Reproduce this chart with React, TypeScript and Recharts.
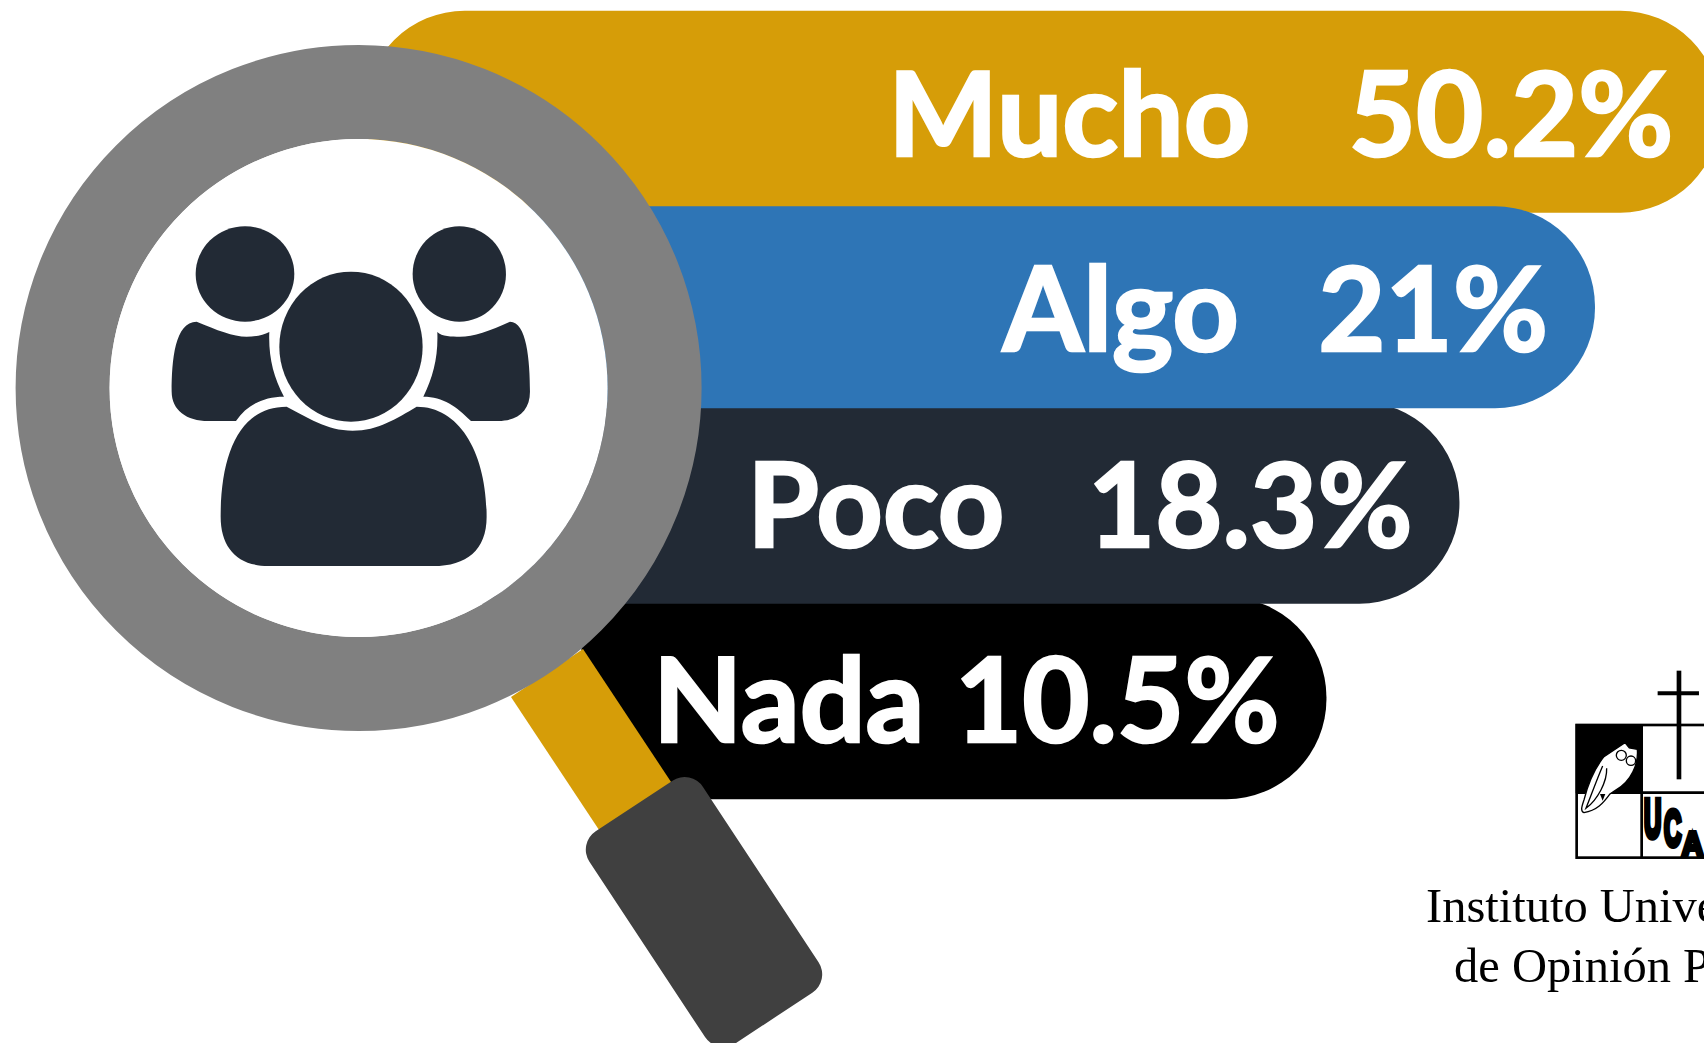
import React from "react";
import { BarChart, Bar, XAxis, YAxis, LabelList, Cell, Rectangle } from "recharts";

// listed bottom-up: the later rows paint over the earlier ones, as in the picture
const categories = ["Nada", "Poco", "Algo", "Mucho"];
const percentages = [10.5, 18.3, 21, 50.2];
// The pills in the source are not drawn to scale with their percentages (they step
// down by rank), so the drawn extent is read off the picture separately from the value.
const drawnStart = [34.1, 21.4, 21.4, 21.4];
const drawnEnd = [77.8, 85.6, 93.55, 100.9];
const colors = ["#000000", "#222A35", "#2E75B6", "#D69D08"];

// how far the word ends before the pill's right end (the gaps vary in the source)
const nameInset = [402, 455, 356, 470];

const rows = categories.map((name, i) => ({
  name,
  offset: drawnStart[i],
  // Mucho sits in its own series so it paints below Algo
  top: name === "Mucho" ? drawnEnd[i] - drawnStart[i] : 0,
  rest: name === "Mucho" ? 0 : drawnEnd[i] - drawnStart[i],
}));

const LABEL_FONT = "Lato, sans-serif";
// the pills overlap each other a little; recharts caps a bar at its band
const PILL_GROW = 1.148;

function Pill(props: any) {
  const { y, width, height } = props;
  if (!(width > 0)) return null;
  const grown = height * PILL_GROW;
  return <Rectangle {...props} y={y - (grown - height) / 2} height={grown} />;
}

function PillLabel(props: any) {
  const { value, viewBox } = props;
  const x = viewBox?.x ?? props.x;
  const y = viewBox?.y ?? props.y;
  const width = viewBox?.width ?? props.width;
  const height = viewBox?.height ?? props.height;
  if (!(width > 0)) return null;
  const index = categories.indexOf(value);
  const end = x + width;
  const baseline = y + height / 2 + 44;
  const common = {
    y: baseline,
    fill: "#FFFFFF",
    stroke: "#FFFFFF",
    strokeWidth: 2.5,
    fontFamily: LABEL_FONT,
    fontWeight: 700,
    fontSize: 116,
    textAnchor: "end" as const,
  };
  return (
    <g>
      <text {...common} x={end - nameInset[index]}>
        {categories[index]}
      </text>
      <text {...common} x={end - 47}>
        {percentages[index]}%
      </text>
    </g>
  );
}

function Magnifier() {
  return (
    <svg width={1704} height={1043} style={{ position: "absolute", left: 0, top: 0 }}>
      <polygon points="583,649 511,697 611,848 683,800" fill="#D69D08" />
      <rect x={-68} y={-127} width={136} height={254} rx={22} fill="#404040" transform="translate(704 912) rotate(-33.4)" />
      <circle cx={358.6} cy={388} r={296} fill="none" stroke="#808080" strokeWidth={94} />
      <circle cx={358.6} cy={388} r={249} fill="#FFFFFF" />
      <g transform="translate(140 200) scale(0.3333)" fill="#222A35">
        <ellipse cx={315} cy={222} rx={148} ry={143} />
        <ellipse cx={958} cy={222} rx={140} ry={143} />
        <ellipse cx={633} cy={440} rx={215} ry={225} />
        <path d="M170,365 C230,390 280,410 320,410 C350,410 370,405 388,396 C385,470 400,530 432,590 C370,590 320,615 288,663 L205,663 C140,663 95,630 95,575 C95,480 105,365 170,365 Z" />
        <path d="M1110,365 C1050,392 1000,410 960,410 C935,410 905,410 892,396 C895,470 880,530 850,590 C910,590 950,620 993,663 L1075,663 C1135,663 1170,630 1170,575 C1170,480 1160,365 1110,365 Z" />
        <path d="M440,620 C500,650 560,692 638,692 C715,692 770,655 830,620 C960,620 1040,760 1040,950 C1040,1050 980,1098 880,1098 L385,1098 C290,1098 242,1040 242,950 C242,760 300,620 440,620 Z" />
      </g>
    </svg>
  );
}

function Logo() {
  return (
    <svg width={1704} height={1043} style={{ position: "absolute", left: 0, top: 0 }}>
      <g transform="translate(1380 640) scale(0.3333)">
        <rect x={587} y={252} width={198} height={208} fill="#000" />
        <rect x={590} y={255} width={500} height={398} fill="none" stroke="#000" strokeWidth={8} />
        <line x1={785} y1={255} x2={785} y2={653} stroke="#000" strokeWidth={8} />
        <line x1={590} y1={458} x2={1000} y2={458} stroke="#000" strokeWidth={8} />
        <line x1={897} y1={92} x2={897} y2={418} stroke="#000" strokeWidth={14} />
        <line x1={833} y1={160} x2={957} y2={160} stroke="#000" strokeWidth={12} />
        <path
          d="M735,308 L748,324 L772,328 C776,370 755,425 705,452 L690,462 C670,490 650,512 612,518 C600,514 606,498 612,480 C622,440 640,390 672,350 Z"
          fill="#FFF"
          stroke="#000"
          strokeWidth={4}
        />
        <path d="M668,378 C650,420 632,470 618,505 C652,480 682,425 680,385" fill="none" stroke="#000" strokeWidth={4} />
        <path d="M660,462 L668,482 L676,462 Z" fill="#000" />
        <circle cx={724} cy={346} r={15} fill="#FFF" stroke="#000" strokeWidth={4} />
        <circle cx={753} cy={362} r={14} fill="#FFF" stroke="#000" strokeWidth={4} />
        <g fontFamily="Liberation Sans, sans-serif" fontWeight={700} fontSize={100} stroke="#000" strokeWidth={12}>
          <text transform="translate(792 590) scale(0.72 1.6)">U</text>
          <text transform="translate(852 618) scale(0.72 1.5)">C</text>
          <text transform="translate(905 648) scale(0.9 1.05)">A</text>
        </g>
      </g>
      <g fontFamily="Liberation Serif, serif" fontSize={48.5} fill="#000">
        <text x={1426} y={922}>Instituto Universitario</text>
        <text x={1454} y={982}>de Opinión Pública</text>
      </g>
    </svg>
  );
}

export default function App() {
  return (
    <div style={{ position: "fixed", left: 0, top: 0, width: 1704, height: 1043, overflow: "hidden", background: "#FFFFFF" }}>
      <BarChart
        layout="vertical"
        width={1722}
        height={1043}
        data={rows}
        margin={{ top: 13.75, right: 0, bottom: 247.25, left: 0 }}
        barSize={224.4}
      >
        <XAxis type="number" domain={[0, 101]} hide />
        <YAxis type="category" dataKey="name" reversed hide />
        <Bar dataKey="offset" stackId="pill" fill="none" isAnimationActive={false} />
        <Bar dataKey="top" stackId="pill" radius={[100, 100, 100, 100]} fill={colors[3]} shape={Pill} isAnimationActive={false}>
          <LabelList dataKey="name" content={PillLabel} />
        </Bar>
        <Bar dataKey="rest" stackId="pill" radius={[0, 100, 100, 0]} shape={Pill} isAnimationActive={false}>
          {rows.map((row, i) => (
            <Cell key={row.name} fill={colors[i]} />
          ))}
          <LabelList dataKey="name" content={PillLabel} />
        </Bar>
      </BarChart>
      <Magnifier />
      <Logo />
    </div>
  );
}
